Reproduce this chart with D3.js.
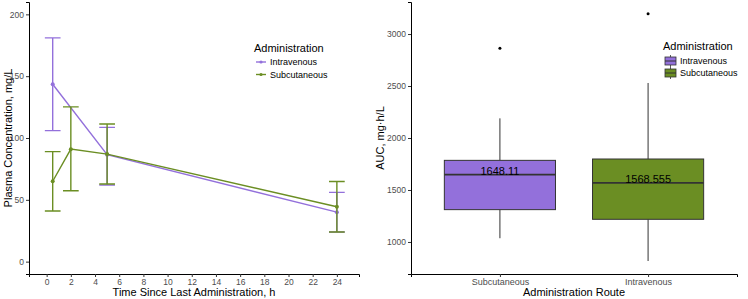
<!doctype html>
<html lang="en">
<head>
  <style>
    body { margin: 0; background: #fff; }
    text { font-family: "Liberation Sans", Arial, sans-serif; }
    .tick text { font-size: 8.5px; fill: #4d4d4d; }
    .axis-title { font-size: 11px; fill: #000; }
    .leg-title { font-size: 11px; fill: #000; }
    .leg-label { font-size: 9px; fill: #000; }
  </style>
  <script src="https://d3js.org/d3.v7.min.js"></script>
</head>
<body>
<script>
  // Concentration-time data (mean with error bars)
  const ivTime = [0.5, 5, 24];
  const ivMean = [143.5, 86.5, 40];
  const ivLow = [106, 62, 24];
  const ivHigh = [181, 108.6, 56];

  const scTime = [0.5, 2, 5, 24];
  const scMean = [65, 91, 87, 44.4];
  const scLow = [41, 57.3, 62.8, 24];
  const scHigh = [89, 125.2, 111.3, 64.8];

  const xTicks = d3.range(0, 25, 2);
  const yTicksLeft = [0, 50, 100, 150, 200];

  // AUC box summaries
  const routes = ["Subcutaneous", "Intravenous"];
  const boxGroup = ["Intravenous", "Subcutaneous"];
  const boxQ1 = [1311, 1218];
  const boxMedian = [1648.11, 1568.555];
  const boxQ3 = [1785, 1798];
  const whiskerLow = [1036, 817];
  const whiskerHigh = [2189, 2529];
  const outliers = [[2862], [3195]];
  const yTicksRight = [1000, 1500, 2000, 2500, 3000];

  const groups = ["Intravenous", "Subcutaneous"];
  const color = d3.scaleOrdinal().domain(groups).range(["#9370DB", "#6B8E23"]);

  const svg = d3.select("body").append("svg")
    .attr("width", 748).attr("height", 299);

  // ---------- left panel ----------
  const x = d3.scaleLinear().domain([-1.46, 25.83]).range([29, 359]);
  const y = d3.scaleLinear().domain([-10, 210]).range([274, 2]);

  const gxl = svg.append("g").attr("transform", "translate(0,274)")
    .call(d3.axisBottom(x).tickValues(xTicks).tickSize(3).tickPadding(2));
  const gyl = svg.append("g").attr("transform", "translate(29,0)")
    .call(d3.axisLeft(y).tickValues(yTicksLeft).tickSize(3).tickPadding(2));
  [gxl, gyl].forEach(g => {
    g.select(".domain").attr("stroke", "#000").attr("stroke-width", 1);
    g.selectAll(".tick line").attr("stroke", "#333");
  });

  const series = [
    { name: "Intravenous", t: ivTime, m: ivMean, lo: ivLow, hi: ivHigh },
    { name: "Subcutaneous", t: scTime, m: scMean, lo: scLow, hi: scHigh }
  ];
  const capHalf = 0.65;

  series.forEach(s => {
    const pts = s.t.map((t, i) => ({ t, m: s.m[i], lo: s.lo[i], hi: s.hi[i] }));
    const c = color(s.name);
    const g = svg.append("g");
    g.selectAll(".eb").data(pts).join("path")
      .attr("fill", "none").attr("stroke", c).attr("stroke-width", 1.4)
      .attr("d", d => `M${x(d.t - capHalf)},${y(d.hi)}H${x(d.t + capHalf)}` +
        `M${x(d.t)},${y(d.hi)}V${y(d.lo)}` +
        `M${x(d.t - capHalf)},${y(d.lo)}H${x(d.t + capHalf)}`);
    g.append("path").datum(pts)
      .attr("fill", "none").attr("stroke", c).attr("stroke-width", 1.4)
      .attr("d", d3.line().x(d => x(d.t)).y(d => y(d.m)));
    g.selectAll("circle").data(pts).join("circle")
      .attr("cx", d => x(d.t)).attr("cy", d => y(d.m)).attr("r", 2).attr("fill", c);
  });

  svg.append("text").attr("class", "axis-title")
    .attr("x", 194).attr("y", 296).attr("text-anchor", "middle")
    .text("Time Since Last Administration, h");
  svg.append("text").attr("class", "axis-title")
    .attr("transform", "translate(12,138) rotate(-90)").attr("text-anchor", "middle")
    .text("Plasma Concentration, mg/L");

  // left legend
  const legL = svg.append("g").attr("transform", "translate(254,0)");
  legL.append("text").attr("class", "leg-title").attr("x", 0).attr("y", 52).text("Administration");
  groups.forEach((gname, i) => {
    const yy = 62 + i * 12.5;
    legL.append("line").attr("x1", 2).attr("x2", 12).attr("y1", yy).attr("y2", yy)
      .attr("stroke", color(gname)).attr("stroke-width", 1.4);
    legL.append("circle").attr("cx", 7).attr("cy", yy).attr("r", 1.6).attr("fill", color(gname));
    legL.append("text").attr("class", "leg-label").attr("x", 16).attr("y", yy + 3.2).text(gname);
  });

  // ---------- right panel ----------
  const xr = d3.scalePoint().domain(routes).range([411, 737]).padding(0.6);
  const yr = d3.scaleLinear().domain([692, 3308]).range([274, 2]);
  const boxW = xr.step() * 0.75;

  const gxr = svg.append("g").attr("transform", "translate(0,274)")
    .call(d3.axisBottom(xr).tickSize(3).tickPadding(2));
  const gyr = svg.append("g").attr("transform", "translate(411,0)")
    .call(d3.axisLeft(yr).tickValues(yTicksRight).tickFormat(d3.format("d")).tickSize(3).tickPadding(2));
  [gxr, gyr].forEach(g => {
    g.select(".domain").attr("stroke", "#000").attr("stroke-width", 1);
    g.selectAll(".tick line").attr("stroke", "#333");
  });
  gxr.selectAll(".tick text").style("font-size", "9px");

  const boxes = routes.map((r, i) => ({
    route: r, group: boxGroup[i], q1: boxQ1[i], med: boxMedian[i], q3: boxQ3[i],
    lo: whiskerLow[i], hi: whiskerHigh[i], out: outliers[i]
  }));

  const bg = svg.selectAll(".box").data(boxes).join("g");
  bg.append("path").attr("stroke", "#333").attr("stroke-width", 1)
    .attr("d", d => `M${xr(d.route)},${yr(d.hi)}V${yr(d.q3)}M${xr(d.route)},${yr(d.q1)}V${yr(d.lo)}`);
  bg.append("rect")
    .attr("x", d => xr(d.route) - boxW / 2).attr("width", boxW)
    .attr("y", d => yr(d.q3)).attr("height", d => yr(d.q1) - yr(d.q3))
    .attr("fill", d => color(d.group)).attr("stroke", "#333").attr("stroke-width", 1);
  bg.append("line")
    .attr("x1", d => xr(d.route) - boxW / 2).attr("x2", d => xr(d.route) + boxW / 2)
    .attr("y1", d => yr(d.med)).attr("y2", d => yr(d.med))
    .attr("stroke", "#333").attr("stroke-width", 1.6);
  bg.selectAll("circle").data(d => d.out.map(v => ({ route: d.route, v }))).join("circle")
    .attr("cx", d => xr(d.route)).attr("cy", d => yr(d.v)).attr("r", 1.5).attr("fill", "#000");
  bg.append("text")
    .attr("x", d => xr(d.route)).attr("y", d => yr(d.med) + 0.5)
    .attr("text-anchor", "middle").style("font-size", "11px").attr("fill", "#000")
    .text(d => String(d.med));

  svg.append("text").attr("class", "axis-title")
    .attr("x", 574).attr("y", 296).attr("text-anchor", "middle")
    .text("Administration Route");
  svg.append("text").attr("class", "axis-title")
    .attr("transform", "translate(384,138) rotate(-90)").attr("text-anchor", "middle")
    .text("AUC, mg·h/L");

  // right legend
  const legR = svg.append("g").attr("transform", "translate(663,0)");
  legR.append("text").attr("class", "leg-title").attr("x", 0).attr("y", 50).text("Administration");
  groups.forEach((gname, i) => {
    const yy = 61 + i * 12;
    legR.append("line").attr("x1", 7.5).attr("x2", 7.5).attr("y1", yy - 6).attr("y2", yy + 6)
      .attr("stroke", "#333").attr("stroke-width", 0.8);
    legR.append("rect").attr("x", 2).attr("y", yy - 4).attr("width", 11).attr("height", 8)
      .attr("fill", color(gname)).attr("stroke", "#333").attr("stroke-width", 0.8);
    legR.append("line").attr("x1", 2).attr("x2", 13).attr("y1", yy).attr("y2", yy)
      .attr("stroke", "#333").attr("stroke-width", 1);
    legR.append("text").attr("class", "leg-label").attr("x", 17).attr("y", yy + 3.2).text(gname);
  });
</script>
</body>
</html>
